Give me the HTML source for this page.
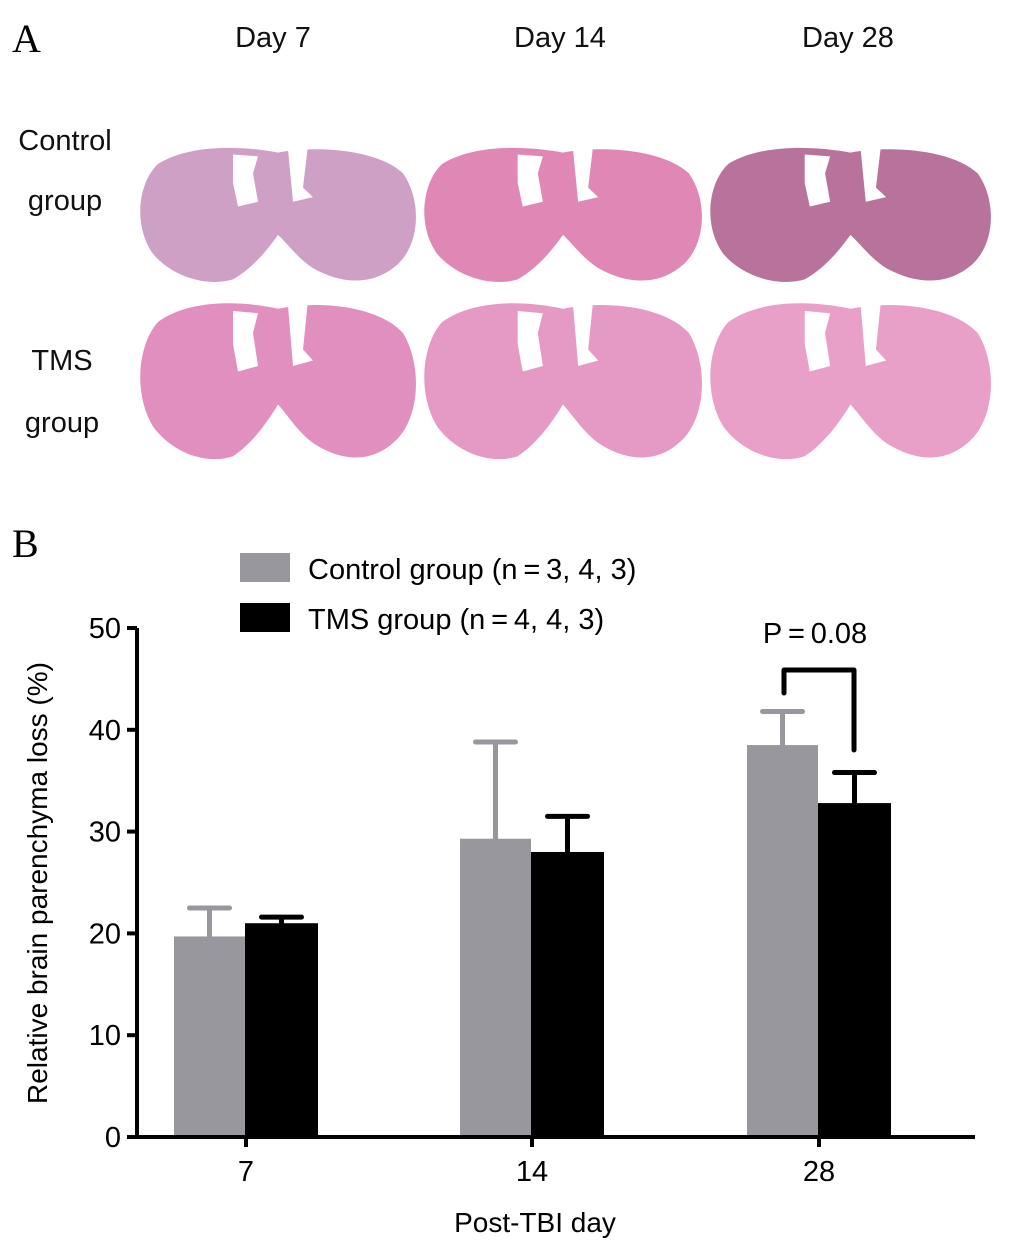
<!DOCTYPE html>
<html><head><meta charset="utf-8"><style>
body{margin:0;background:#fff;width:1015px;height:1255px;overflow:hidden;font-family:"Liberation Sans",Arial,sans-serif}
svg{position:absolute;left:0;top:0}
</style></head><body>
<svg width="1015" height="1255">
<text x="12" y="52" font-family="Liberation Serif" font-size="40">A</text>
<g font-size="29" text-anchor="middle" fill="#111">
<text x="273" y="47">Day 7</text>
<text x="560" y="47">Day 14</text>
<text x="848" y="47">Day 28</text>
<text x="65" y="150">Control</text>
<text x="65" y="210">group</text>
<text x="62" y="370">TMS</text>
<text x="62" y="432">group</text>
</g>
<g id="brains"></g>
<text x="12" y="557" font-family="Liberation Serif" font-size="40">B</text>
<g id="chart"></g>
</svg>
<script>
const NS='http://www.w3.org/2000/svg';
function mk(p,t,a){const e=document.createElementNS(NS,t);for(const k in a)e.setAttribute(k,a[k]);p.appendChild(e);return e;}
const brainColors=[['#cfa0c6','#df88b6','#b8739c'],['#e18fbf','#e49ac4','#e8a0c8']];
const brainX=[138,422,708], brainY=[145,300], brainW=[280,282,285], brainH=[142,165];
const bg=document.getElementById('brains');
brainY.forEach((y,r)=>brainX.forEach((x,c)=>{
 const w=brainW[c],h=brainH[r];
 const g=mk(bg,'g',{transform:`translate(${x},${y}) scale(${w/280},${h/150})`});
 
 
 mk(g,'path',{d:'M20,20 C50,0 100,0 140,8 C180,0 240,5 265,30 C285,60 282,110 255,130 C230,150 200,145 175,130 C160,120 150,105 140,95 C130,110 115,130 95,142 C70,150 35,140 15,115 C-5,85 0,40 20,20 Z',fill:brainColors[r][c]});
 mk(g,'path',{d:'M95,10 L120,12 L115,30 L120,60 L100,65 L95,40 Z',fill:'#fff'});
 mk(g,'path',{d:'M150,5 L170,0 L165,45 L175,55 L155,60 Z',fill:'#fff'});
}));
const days=['7','14','28'];
const controlVals=[19.7,29.3,38.5];
const controlErr=[2.8,9.5,3.3];
const tmsVals=[21.0,28.0,32.8];
const tmsErr=[0.6,3.5,3.0];
const yTicks=[0,10,20,30,40,50];
const x0=137,x1=975,y0=1137,yTop=628;
const yS=v=>y0-(v/50)*(y0-yTop);
const catC=[246,532,819];
const xS=i=>catC[i];
const ch=document.getElementById('chart');
days.forEach((d,i)=>{
 const c=xS(i);
 [[controlVals,controlErr,'#98979d',-72],[tmsVals,tmsErr,'#000',0]].forEach(([vals,err,col,off],k)=>{
  const bx=c+off-(k?1:0),bw=k?73:71;
  const r=mk(ch,'rect',{x:bx,y:yS(vals[i]),width:bw,height:y0-yS(vals[i]),fill:col});
  
  
  const ex=bx+bw/2,et=yS(vals[i]+err[i]);
  const e=mk(ch,'path',{d:`M${ex},${yS(vals[i])} V${et} M${ex-20},${et} H${ex+20}`,stroke:col,'stroke-width':5,fill:'none','stroke-linecap':'round'});
  
  
 });
});
const ax=mk(ch,'path',{d:`M${x0},${yTop} V${y0} H${x1}`,stroke:'#000','stroke-width':4,fill:'none'});


yTicks.forEach(t=>{
 mk(ch,'line',{x1:x0-10,x2:x0,y1:yS(t),y2:yS(t),stroke:'#000','stroke-width':4});
 const tx=mk(ch,'text',{x:x0-16,y:yS(t)+10,'text-anchor':'end','font-size':29});
 tx.textContent=t;
 
 
});
days.forEach((d,i)=>{
 mk(ch,'line',{x1:xS(i),x2:xS(i),y1:y0,y2:y0+10,stroke:'#000','stroke-width':4});
 const tx=mk(ch,'text',{x:xS(i),y:1181,'text-anchor':'middle','font-size':29});
 tx.textContent=d;
 
 
});
const xt=mk(ch,'text',{x:535,y:1232,'text-anchor':'middle','font-size':28});
xt.textContent='Post-TBI day';


const yt=mk(ch,'text',{x:0,y:0,'text-anchor':'middle','font-size':28,transform:'translate(47,883) rotate(-90)'});
yt.textContent='Relative brain parenchyma loss (%)';


[['#98979d','Control group (n\u2009=\u20093, 4, 3)',553],['#000','TMS group (n\u2009=\u20094, 4, 3)',603]].forEach(([c,l,y],k)=>{
 const r=mk(ch,'rect',{x:240,y:y,width:50,height:29,fill:c});
 
 
 const t=mk(ch,'text',{x:308,y:y+26,'font-size':29});
 t.textContent=l;
 
 
});
const br=mk(ch,'path',{d:'M784,693 V670 H854 V750',stroke:'#000','stroke-width':5,fill:'none','stroke-linejoin':'round','stroke-linecap':'round'});


const pt=mk(ch,'text',{x:815,y:643,'text-anchor':'middle','font-size':29});
pt.textContent='P\u2009=\u20090.08';


</script>
</body></html>
